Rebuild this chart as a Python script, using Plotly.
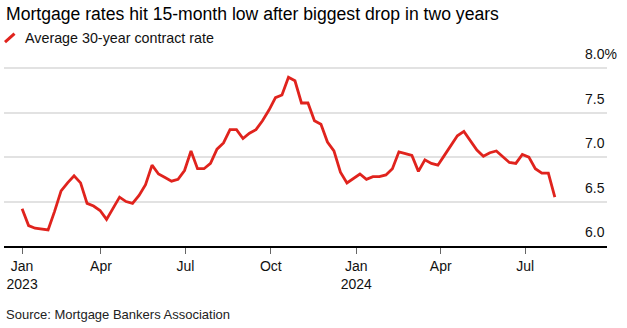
import pandas as pd
import plotly.graph_objects as go

# Weekly MBA average 30-year contract rate (week ending Fridays)
start_week = "2023-01-06"
rates = [
    6.42, 6.23, 6.20, 6.19, 6.18, 6.39, 6.62, 6.71, 6.79, 6.71, 6.48, 6.45, 6.40,
    6.30, 6.43, 6.55, 6.50, 6.48, 6.57, 6.69, 6.91, 6.81, 6.77, 6.73, 6.75, 6.85,
    7.07, 6.87, 6.87, 6.93, 7.09, 7.16, 7.31, 7.31, 7.21, 7.27, 7.31, 7.41, 7.53,
    7.67, 7.70, 7.90, 7.86, 7.61, 7.61, 7.41, 7.37, 7.17, 7.07, 6.83, 6.71, 6.76,
    6.81, 6.75, 6.78, 6.78, 6.80, 6.87, 7.06, 7.04, 7.02, 6.84, 6.97, 6.93, 6.91,
    7.02, 7.13, 7.24, 7.29, 7.18, 7.08, 7.01, 7.05, 7.07, 7.01, 6.94, 6.93, 7.03,
    7.00, 6.87, 6.82, 6.82, 6.55,
]
dates = pd.date_range(start_week, periods=len(rates), freq="7D")

x_tick_vals = ["2023-01-06", "2023-04-01", "2023-07-01", "2023-10-01",
               "2024-01-01", "2024-04-01", "2024-07-01"]
x_tick_text = ["Jan<br>2023", "Apr", "Jul", "Oct", "Jan<br>2024", "Apr", "Jul"]
y_tick_vals = [6.0, 6.5, 7.0, 7.5, 8.0]
y_tick_text = ["6.0", "6.5", "7.0", "7.5", "8.0%"]

title = "Mortgage rates hit 15-month low after biggest drop in two years"
legend_label = "Average 30-year contract rate"
source = "Source: Mortgage Bankers Association"

RED = "#e0231d"
FONT = "Liberation Sans, Arial, sans-serif"

W, H = 627, 328
Y_TOP = 8.06
ML, MR, MB = 4, 20, 82
MT = 68.7 - (Y_TOP - 8.0) * 88.7
PW, PH = W - ML - MR, H - MT - MB

def px(xp):
    return (xp - ML) / PW

def py(yp):
    return (H - MB - yp) / PH

fig = go.Figure()
fig.add_trace(go.Scatter(
    x=dates, y=rates, mode="lines",
    line=dict(color=RED, width=2.8),
    hoverinfo="skip", showlegend=False,
))

annotations = []
for v, t in zip(y_tick_vals, y_tick_text):
    annotations.append(dict(
        x=1, xref="paper", y=v, yref="y", text=t, showarrow=False,
        xanchor="right", yanchor="bottom", yshift=4,
        xshift=(12 if t.endswith("%") else 0),
        font=dict(family=FONT, size=14, color="#111111"),
    ))
annotations.append(dict(
    x=px(4), xref="paper", y=py(14), yref="paper", text=title,
    showarrow=False, xanchor="left", yanchor="middle",
    font=dict(family=FONT, size=17.6, color="#000000"),
))
annotations.append(dict(
    x=px(23), xref="paper", y=py(38), yref="paper", text=legend_label,
    showarrow=False, xanchor="left", yanchor="middle",
    font=dict(family=FONT, size=14.3, color="#111111"),
))
annotations.append(dict(
    x=px(4), xref="paper", y=py(314), yref="paper", text=source,
    showarrow=False, xanchor="left", yanchor="middle",
    font=dict(family=FONT, size=13, color="#222222"),
))

fig.update_layout(
    width=W, height=H,
    margin=dict(l=ML, r=MR, t=MT, b=MB, pad=0),
    paper_bgcolor="white", plot_bgcolor="white",
    showlegend=False,
    annotations=annotations,
    shapes=[dict(
        type="line", xref="paper", yref="paper",
        x0=px(5), y0=py(42.5), x1=px(14.5), y1=py(34),
        line=dict(color=RED, width=3),
    )],
    xaxis=dict(
        range=["2022-12-17 12:00", "2024-09-27 05:00"],
        tickmode="array", tickvals=x_tick_vals, ticktext=x_tick_text,
        ticks="outside", ticklen=6, tickwidth=1, tickcolor="#666666",
        showline=True, linecolor="#000000", linewidth=1.5,
        showgrid=False, zeroline=False,
        tickfont=dict(family=FONT, size=14, color="#111111"),
    ),
    yaxis=dict(
        range=[6.0, Y_TOP],
        tickmode="array", tickvals=[6.5, 7.0, 7.5, 8.0],
        showticklabels=False, showgrid=True,
        gridcolor="#e2e2e2", gridwidth=2,
        zeroline=False, showline=False,
    ),
)

fig.write_html("out.html")
